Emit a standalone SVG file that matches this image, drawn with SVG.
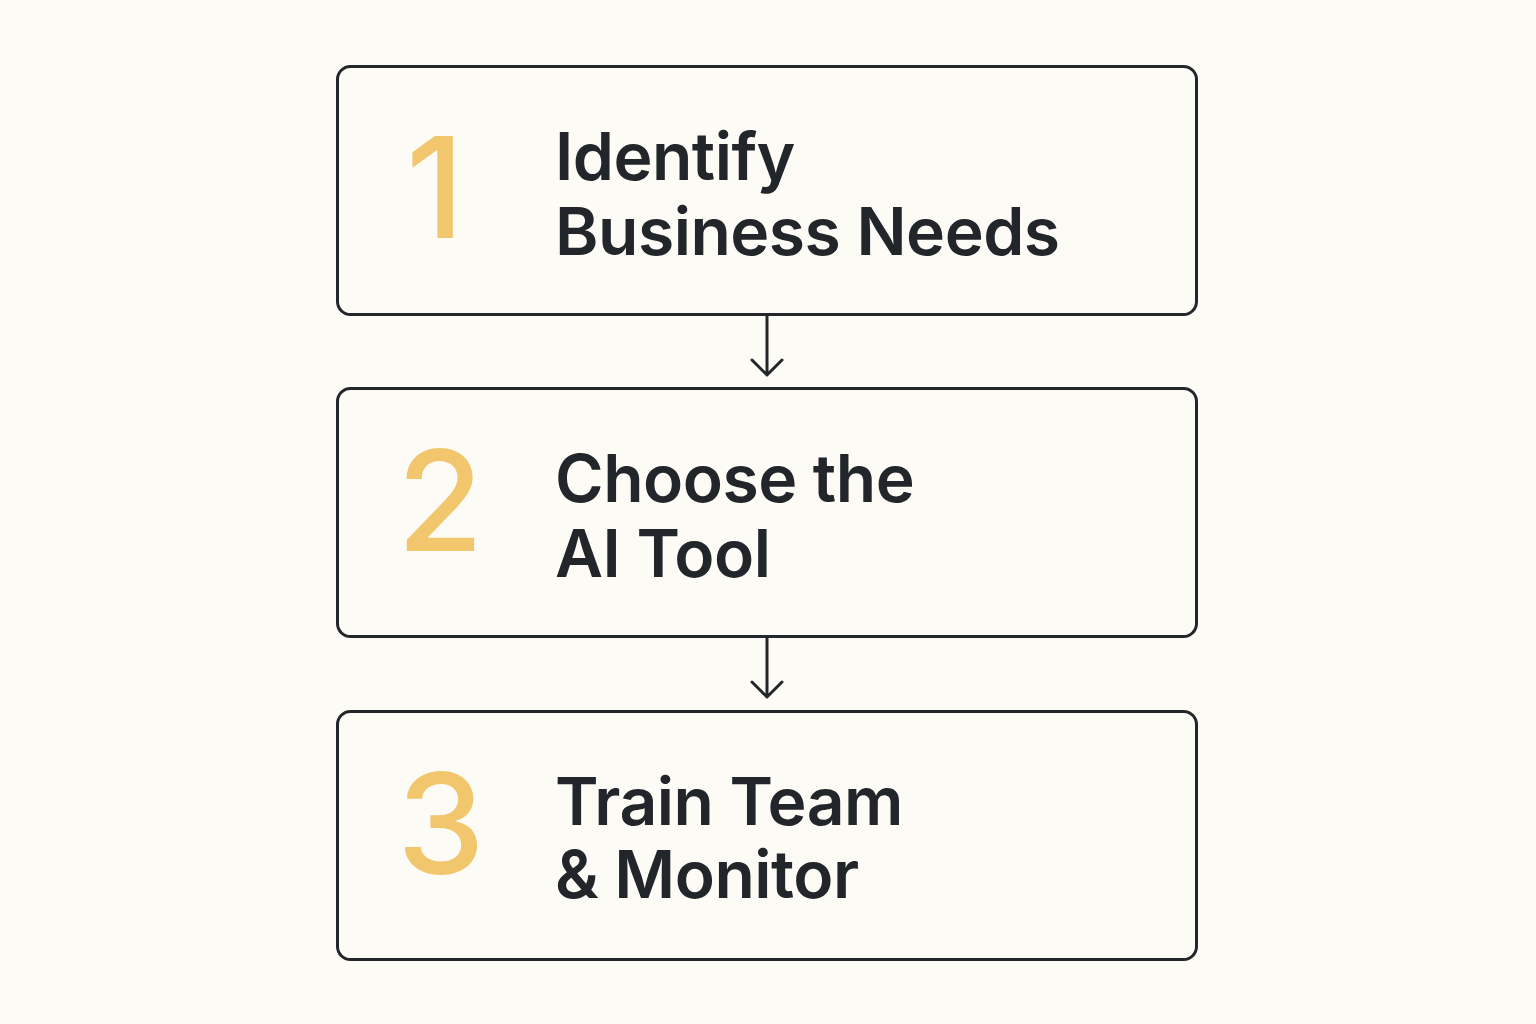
<svg xmlns="http://www.w3.org/2000/svg" width="1536" height="1024" viewBox="0 0 1536 1024">
<style>
.box{fill:#FDFBF6;stroke:#23262A;stroke-width:3}
.num{font-family:Inter,"Noto Sans",sans-serif;font-weight:500;font-size:140px;fill:#F2C66D}
.lbl{font-family:Inter,"Noto Sans",sans-serif;font-weight:600;font-size:66px;letter-spacing:-0.5px;fill:#22262A}
.conn{fill:none;stroke:#23262A;stroke-width:3;stroke-linecap:round;stroke-linejoin:round}
</style>
<rect width="1536" height="1024" fill="#FDFBF6"/>
<g id="connectors">
<path class="conn" d="M767 316 V375 M752 360 L767 375 L782 360"/>
<path class="conn" d="M767 638 V697 M752 682 L767 697 L782 682"/>
</g>
<g id="step1">
<rect class="box" x="337.5" y="66.5" width="859" height="248" rx="13"/>
<text class="num" x="406" y="238" font-size="146">1</text>
<text class="lbl" x="555" y="180">Identify</text>
<text class="lbl" x="555" y="255">Business Needs</text>
</g>
<g id="step2">
<rect class="box" x="337.5" y="388.5" width="859" height="248" rx="13"/>
<text class="num" x="397" y="551">2</text>
<text class="lbl" x="555" y="502">Choose the</text>
<text class="lbl" x="555" y="577">AI Tool</text>
</g>
<g id="step3">
<rect class="box" x="337.5" y="711.5" width="859" height="248" rx="13"/>
<text class="num" x="397" y="874">3</text>
<text class="lbl" x="555" y="825">Train Team</text>
<text class="lbl" x="555" y="898">&amp; Monitor</text>
</g>
</svg>
